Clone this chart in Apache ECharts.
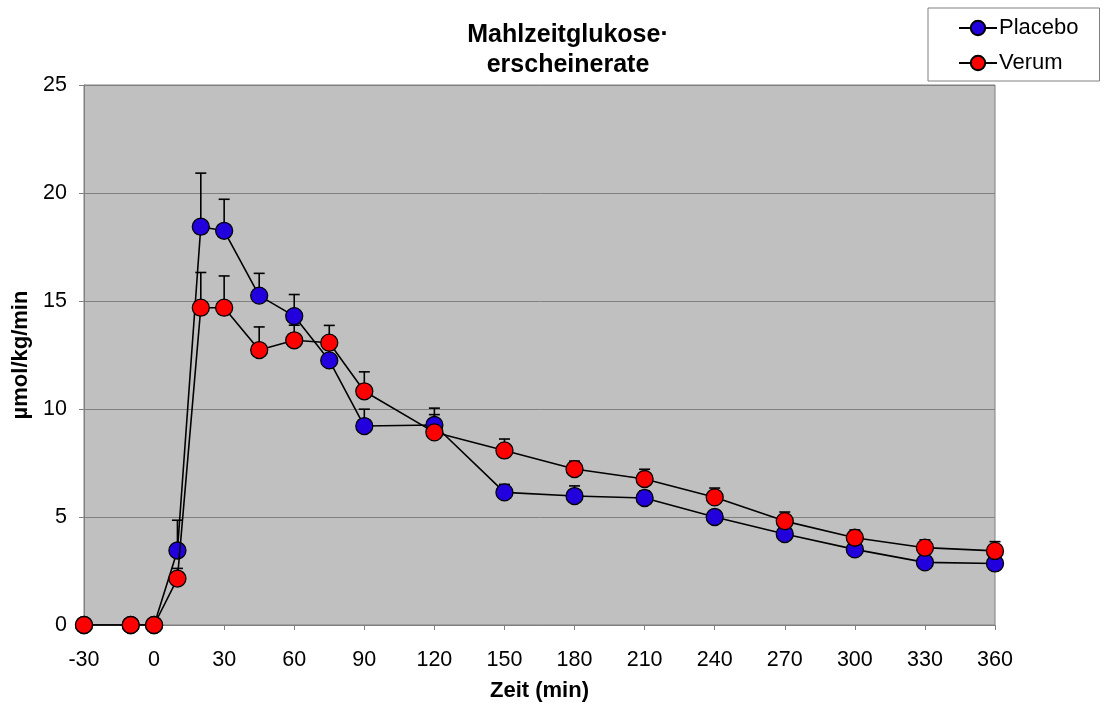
<!DOCTYPE html>
<html>
<head>
<meta charset="utf-8">
<script src="https://cdn.jsdelivr.net/npm/echarts@6/dist/echarts.min.js"></script>
<style>
  html, body { margin: 0; padding: 0; background: #ffffff; }
  #chart { width: 1103px; height: 708px; }
</style>
</head>
<body>
<div id="chart"></div>
<script>
// Sampling times (min relative to meal)
const times = [-30, -10, 0, 10, 20, 30, 45, 60, 75, 90, 120, 150, 180, 210, 240, 270, 300, 330, 360];
// Meal glucose appearance rate, mean (µmol/kg/min)
const placebo = [0, 0, 0, 3.45, 18.44, 18.25, 15.25, 14.3, 12.25, 9.21, 9.26, 6.14, 5.97, 5.88, 5.0, 4.21, 3.5, 2.9, 2.85];
const verum   = [0, 0, 0, 2.15, 14.69, 14.69, 12.73, 13.18, 13.07, 10.82, 8.92, 8.08, 7.22, 6.76, 5.91, 4.81, 4.04, 3.58, 3.43];
// Standard error (upper error bars)
const placeboSem = [0, 0, 0, 1.4, 2.48, 1.46, 1.03, 1.0, 0.7, 0.78, 0.78, 0.37, 0.47, 0.33, 0.3, 0.3, 0.25, 0.25, 0.25];
const verumSem   = [0, 0, 0, 0.47, 1.63, 1.47, 1.07, 0.7, 0.8, 0.9, 0.82, 0.53, 0.37, 0.45, 0.43, 0.42, 0.36, 0.36, 0.43];

const yTicks = [0, 5, 10, 15, 20, 25];

const FONT = 'Liberation Sans, Arial, sans-serif';

function pairs(vals) {
  return times.map((t, i) => [t, vals[i]]);
}
function errData(vals, sem) {
  return times.map((t, i) => [t, vals[i], vals[i] + sem[i]]);
}

// Upper error bar with a horizontal cap
function renderErr(params, api) {
  if (api.value(2) <= api.value(1)) return null;
  const base = api.coord([api.value(0), api.value(1)]);
  const top = api.coord([api.value(0), api.value(2)]);
  const half = 5.5;
  const style = { stroke: '#000000', lineWidth: 1.6 };
  return {
    type: 'group',
    children: [
      { type: 'line', shape: { x1: base[0], y1: base[1], x2: top[0], y2: top[1] }, style: style },
      { type: 'line', shape: { x1: top[0] - half, y1: top[1], x2: top[0] + half, y2: top[1] }, style: style }
    ]
  };
}

const chart = echarts.init(document.getElementById('chart'), null, { renderer: 'canvas' });

const lineCommon = {
  type: 'line',
  symbol: 'circle',
  symbolSize: 17,
  showAllSymbol: true,
  lineStyle: { color: '#000000', width: 1.6 },
  animation: false,
  z: 3
};

chart.setOption({
  backgroundColor: '#ffffff',
  animation: false,
  title: {
    text: 'Mahlzeitglukose·\nerscheinerate',
    left: 563,
    textAlign: 'center',
    top: 15,
    textStyle: { fontFamily: FONT, fontSize: 25, fontWeight: 'bold', color: '#000000', lineHeight: 30 }
  },
  legend: {
    orient: 'vertical',
    left: 928,
    top: 8,
    padding: [9, 21, 7, 30],
    itemGap: 13,
    itemWidth: 38,
    itemHeight: 18,
    borderColor: '#808080',
    borderWidth: 1,
    backgroundColor: '#ffffff',
    textStyle: { fontFamily: FONT, fontSize: 22, color: '#000000', padding: [0, 0, 0, -3] },
    data: ['Placebo', 'Verum']
  },
  grid: {
    left: 84, right: 108, top: 85, bottom: 83,
    show: true,
    backgroundColor: '#c0c0c0',
    borderColor: '#808080',
    borderWidth: 1
  },
  xAxis: {
    type: 'value',
    min: -30, max: 360, interval: 30,
    name: 'Zeit (min)',
    nameLocation: 'middle',
    nameGap: 55,
    nameTextStyle: { fontFamily: FONT, fontSize: 22, fontWeight: 'bold', color: '#000000' },
    axisLine: { show: true, onZero: false, lineStyle: { color: '#808080', width: 1 } },
    axisTick: { show: true, length: 5, lineStyle: { color: '#808080' } },
    axisLabel: { fontFamily: FONT, fontSize: 21.5, color: '#000000', margin: 24 },
    splitLine: { show: false }
  },
  yAxis: {
    type: 'value',
    min: 0, max: 25, interval: 5,
    name: 'µmol/kg/min',
    nameLocation: 'middle',
    nameGap: 45,
    nameRotate: 90,
    nameTextStyle: { fontFamily: FONT, fontSize: 22, fontWeight: 'bold', color: '#000000' },
    axisLine: { show: true, onZero: false, lineStyle: { color: '#808080', width: 1 } },
    axisTick: { show: true, length: 5, lineStyle: { color: '#808080' } },
    axisLabel: {
      fontFamily: FONT, fontSize: 21.5, color: '#000000', margin: 17,
      formatter: v => (yTicks.indexOf(v) >= 0 ? String(v) : '')
    },
    splitLine: { show: true, lineStyle: { color: '#808080', width: 1 } }
  },
  series: [
    {
      name: 'Placebo-SE',
      type: 'custom',
      renderItem: renderErr,
      data: errData(placebo, placeboSem),
      encode: { x: 0, y: [1, 2] },
      z: 1,
      silent: true
    },
    {
      name: 'Verum-SE',
      type: 'custom',
      renderItem: renderErr,
      data: errData(verum, verumSem),
      encode: { x: 0, y: [1, 2] },
      z: 1,
      silent: true
    },
    Object.assign({}, lineCommon, {
      name: 'Placebo',
      data: pairs(placebo),
      itemStyle: { color: '#2200dd', borderColor: '#000000', borderWidth: 1.3 }
    }),
    Object.assign({}, lineCommon, {
      name: 'Verum',
      data: pairs(verum),
      itemStyle: { color: '#ff0000', borderColor: '#000000', borderWidth: 1.3 },
      z: 4
    })
  ]
});
</script>
</body>
</html>
